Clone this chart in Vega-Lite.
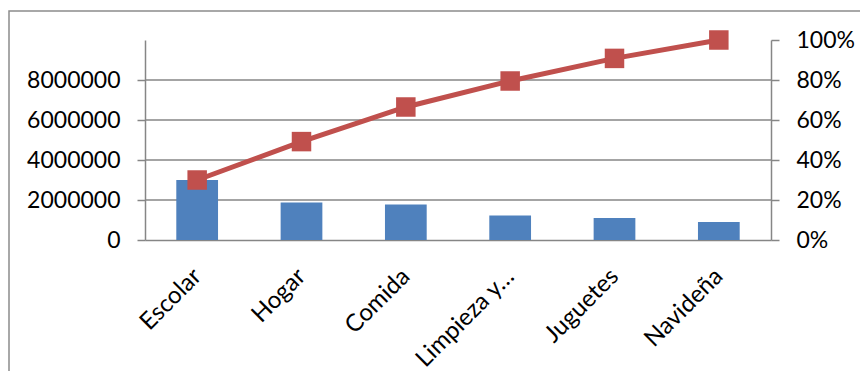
{
  "$schema": "https://vega.github.io/schema/vega-lite/v6.json",
  "autosize": {"type": "none"},
  "width": 853,
  "height": 362,
  "padding": {"left": 9, "top": 11, "right": -2, "bottom": -2},
  "background": "white",
  "config": {
    "view": {"stroke": "#8c8c8c", "strokeWidth": 1.5, "fill": "white"},
    "font": "Lato",
    "axis": {
      "labelFont": "Lato",
      "labelFontSize": 23,
      "labelColor": "#000000",
      "domainColor": "#868686",
      "domainWidth": 1.5,
      "tickColor": "#868686",
      "tickWidth": 1.5,
      "tickSize": 8,
      "grid": false,
      "title": null
    }
  },
  "data": {
    "values": [
      {"categoria": "Escolar", "ventas": 3000000, "acumulado": 0.30},
      {"categoria": "Hogar", "ventas": 1870000, "acumulado": 0.492},
      {"categoria": "Comida", "ventas": 1780000, "acumulado": 0.665},
      {"categoria": "Limpieza y…", "ventas": 1230000, "acumulado": 0.795},
      {"categoria": "Juguetes", "ventas": 1100000, "acumulado": 0.908},
      {"categoria": "Navideña", "ventas": 900000, "acumulado": 1.0}
    ]
  },
  "encoding": {
    "x": {
      "field": "categoria",
      "type": "nominal",
      "sort": null,
      "scale": {
        "domain": ["Escolar", "Hogar", "Comida", "Limpieza y…", "Juguetes", "Navideña"],
        "range": [136, 762],
        "paddingInner": 0,
        "paddingOuter": 0
      },
      "axis": {
        "offset": -133,
        "labelAngle": -45,
        "ticks": false,
        "labelFontSize": 24,
        "labelPadding": 24,
        "labelOffset": -8,
        "domainColor": "#868686"
      }
    }
  },
  "layer": [
    {
      "data": {"values": [{"g": 2000000}, {"g": 4000000}, {"g": 6000000}, {"g": 8000000}]},
      "mark": {"type": "rule", "color": "#868686", "strokeWidth": 1.5},
      "encoding": {
        "x": {"datum": "Escolar", "bandPosition": 0},
        "x2": {"datum": "Navideña", "bandPosition": 1},
        "y": {
          "field": "g",
          "type": "quantitative",
          "scale": {"domain": [0, 10000000], "range": [229, 29], "nice": false, "zero": false},
          "axis": null
        }
      }
    },
    {
      "mark": {"type": "bar", "color": "#4F81BD", "width": {"band": 0.4}},
      "encoding": {
        "y": {
          "field": "ventas",
          "type": "quantitative",
          "scale": {"domain": [0, 10000000], "range": [229, 29], "nice": false},
          "axis": {
            "orient": "left",
            "offset": -136,
            "values": [0, 2000000, 4000000, 6000000, 8000000],
            "format": "d",
            "labelPadding": 17
          }
        }
      }
    },
    {
      "mark": {
        "type": "line",
        "color": "#C0504D",
        "strokeWidth": 5,
        "point": {"shape": "square", "size": 380, "filled": true, "color": "#C0504D", "opacity": 1}
      },
      "encoding": {
        "y": {
          "field": "acumulado",
          "type": "quantitative",
          "scale": {"domain": [0, 1], "range": [229, 29], "nice": false},
          "axis": {
            "orient": "right",
            "offset": -91,
            "values": [0, 0.2, 0.4, 0.6, 0.8, 1],
            "format": ".0%",
            "labelPadding": 17
          }
        }
      }
    }
  ],
  "resolve": {"scale": {"y": "independent"}}
}
